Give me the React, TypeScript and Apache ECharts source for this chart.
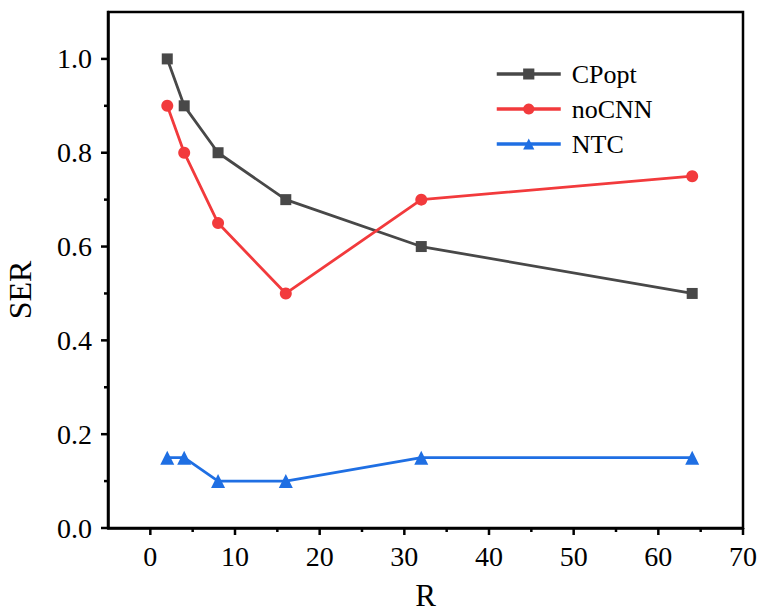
import React, { useEffect, useRef } from "react";
import * as echarts from "echarts";

const rValues = [2, 4, 8, 16, 32, 64];
const cpopt = [1.0, 0.9, 0.8, 0.7, 0.6, 0.5];
const nocnn = [0.9, 0.8, 0.65, 0.5, 0.7, 0.75];
const ntc = [0.15, 0.15, 0.1, 0.1, 0.15, 0.15];
const xMajor = [0, 10, 20, 30, 40, 50, 60, 70];
const xMinor = [5, 15, 25, 35, 45, 55, 65];
const yMajor = [0, 0.2, 0.4, 0.6, 0.8, 1.0];
const yMinor = [0.1, 0.3, 0.5, 0.7, 0.9];
const X_MIN = -5;
const X_MAX = 70;
const Y_MIN = 0;
const Y_MAX = 1.1;

const FONT = "Liberation Serif";

export default function App() {
  const ref = useRef<HTMLDivElement>(null);
  useEffect(() => {
    if (!ref.current) return;
    const chart = echarts.init(ref.current, null, { renderer: "svg" });
    const pair = (ys: number[]) => rValues.map((x, i) => [x, ys[i]]);
    const axisLine = { show: true, onZero: false, lineStyle: { color: "#000", width: 2.5 } };

    const tickSeries = (name: string, axisDir: number, values: number[], len: number) => ({
      name,
      type: "custom",
      clip: false,
      silent: true,
      z: 10,
      data: values.map((v) => [v]),
      encode: { x: -1, y: -1 },
      renderItem: (params: any, api: any) => {
        const v = api.value(0);
        if (axisDir === 0) {
          const p = api.coord([v, Y_MIN]);
          return {
            type: "line",
            shape: { x1: p[0], y1: p[1], x2: p[0], y2: p[1] + len },
            style: { stroke: "#000", lineWidth: 2.5 },
          };
        }
        const p = api.coord([X_MIN, v]);
        return {
          type: "line",
          shape: { x1: p[0] - len, y1: p[1], x2: p[0], y2: p[1] },
          style: { stroke: "#000", lineWidth: 2.5 },
        };
      },
    });

    chart.setOption({
      animation: false,
      backgroundColor: "#fff",
      grid: {
        left: 108,
        right: 20,
        top: 12,
        bottom: 88,
        show: true,
        borderColor: "#000",
        borderWidth: 2.5,
        containLabel: false,
        outerBoundsMode: "none",
      },
      legend: {
        orient: "vertical",
        left: 490,
        top: 56,
        itemWidth: 64,
        itemHeight: 14,
        itemGap: 9,
        lineStyle: { width: 3.5 },
        textStyle: { fontFamily: FONT, fontSize: 26, color: "#000", lineHeight: 26, padding: [0, 0, 0, 6] },
        data: ["CPopt", "noCNN", "NTC"],
      },
      xAxis: {
        type: "value",
        min: X_MIN,
        max: X_MAX,
        name: "R",
        nameLocation: "middle",
        nameGap: 52,
        nameTextStyle: { fontFamily: FONT, fontSize: 31, color: "#000" },
        axisLine,
        splitLine: { show: false },
        axisTick: { show: false },
        axisLabel: {
          customValues: xMajor,
          fontFamily: FONT,
          fontSize: 28,
          color: "#000",
          margin: 14,
        },
      },
      yAxis: {
        type: "value",
        min: Y_MIN,
        max: Y_MAX,
        name: "SER",
        nameLocation: "middle",
        nameGap: 72,
        nameTextStyle: { fontFamily: FONT, fontSize: 32, color: "#000", padding: [0, 40, 0, 0] },
        axisLine,
        splitLine: { show: false },
        axisTick: { show: false },
        axisLabel: {
          customValues: yMajor,
          fontFamily: FONT,
          fontSize: 28,
          color: "#000",
          margin: 16,
          formatter: (v: number) => v.toFixed(1),
        },
      },
      series: [
        tickSeries("xMajorTicks", 0, xMajor, 7),
        tickSeries("xMinorTicks", 0, xMinor, 4),
        tickSeries("yMajorTicks", 1, yMajor, 7),
        tickSeries("yMinorTicks", 1, yMinor, 4),
        {
          name: "CPopt",
          type: "line",
          data: pair(cpopt),
          symbol: "rect",
          symbolSize: 11,
          itemStyle: { color: "#484848" },
          lineStyle: { color: "#484848", width: 2.8 },
        },
        {
          name: "noCNN",
          type: "line",
          data: pair(nocnn),
          symbol: "circle",
          symbolSize: 12,
          itemStyle: { color: "#f23a3c" },
          lineStyle: { color: "#f23a3c", width: 2.8 },
        },
        {
          name: "NTC",
          type: "line",
          data: pair(ntc),
          symbol: "triangle",
          symbolSize: 14,
          itemStyle: { color: "#1f6fe3" },
          lineStyle: { color: "#1f6fe3", width: 2.8 },
        },
      ],
    });
    return () => chart.dispose();
  }, []);
  return (
    <div
      ref={ref}
      style={{ position: "absolute", left: 0, top: 0, width: 763, height: 616 }}
    />
  );
}
